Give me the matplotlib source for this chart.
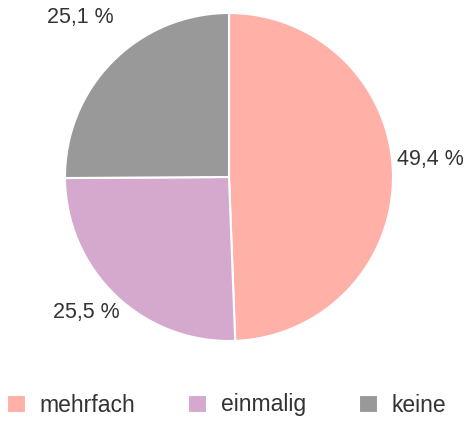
import matplotlib.pyplot as plt

LABELS = ['mehrfach', 'einmalig', 'keine']
VALUES = [49.4, 25.5, 25.1]
COLORS = ['#FFB1A8', '#D5A8CE', '#999999']
TEXT_POS = [(1.226, 0.104), (-0.872, -0.829), (-0.909, 0.970)]

plt.rcParams['font.family'] = ['Liberation Sans', 'DejaVu Sans']
plt.rcParams['font.size'] = 15.5

W, H = 473, 421
CX, CY, R = 229, 177, 164

fig = plt.figure(figsize=(W / 100, H / 100), dpi=100)
ax = fig.add_axes([0, 0, 1, 1])

wedges, _ = ax.pie(VALUES, colors=COLORS, startangle=90, counterclock=False,
                   radius=1, center=(0, 0), frame=True,
                   wedgeprops={'edgecolor': 'white', 'linewidth': 1.5})
ax.set_xlim(-CX / R, (W - CX) / R)
ax.set_ylim(-(H - CY) / R, CY / R)
ax.set_aspect('equal')
ax.axis('off')

for v, (x, y) in zip(VALUES, TEXT_POS):
    ax.text(x, y, '{:.1f} %'.format(v).replace('.', ','), ha='center', va='center',
            color='#333333')

fig.legend(wedges, LABELS, loc='center left', bbox_to_anchor=(0.0, 1 - 405 / H),
           ncol=3, frameon=False, fontsize=16.5, handlelength=0.83, handleheight=0.83,
           handletextpad=0.6, columnspacing=2.3, labelcolor='#333333',
           borderaxespad=0, borderpad=0.3)

fig.savefig('out.png', dpi=100)
